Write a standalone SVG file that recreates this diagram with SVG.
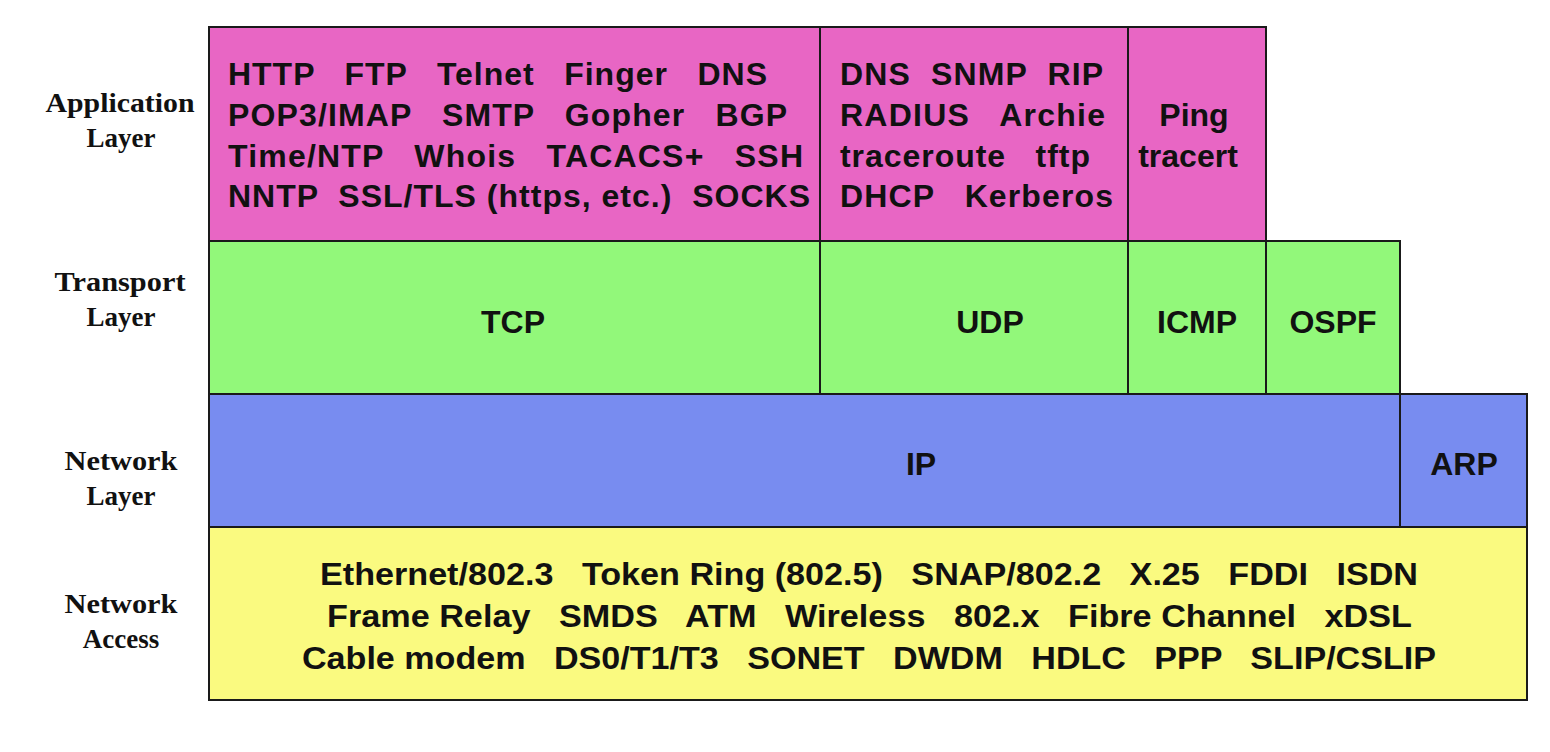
<svg xmlns="http://www.w3.org/2000/svg" width="1550" height="752" viewBox="0 0 1550 752">
<style>
.box{stroke:#1a1a1a;stroke-width:2}
.app{fill:#E866C4}
.tr{fill:#92F87A}
.net{fill:#788CF0}
.acc{fill:#FAFA80}
.t{font-family:"Liberation Sans",Arial,sans-serif;font-weight:bold;font-size:32px;fill:#111}
.c{text-anchor:middle}
.lbl{font-family:"Liberation Serif","Times New Roman",serif;font-weight:bold;font-size:27px;fill:#111;text-anchor:middle}
</style>
<rect width="1550" height="752" fill="#fff"/>
<g id="labels">
<text class="lbl" x="120" y="112" textLength="149" lengthAdjust="spacingAndGlyphs">Application</text>
<text class="lbl" x="121" y="147">Layer</text>
<text class="lbl" x="120" y="291" textLength="131" lengthAdjust="spacingAndGlyphs">Transport</text>
<text class="lbl" x="121" y="326">Layer</text>
<text class="lbl" x="121" y="470" textLength="113" lengthAdjust="spacingAndGlyphs">Network</text>
<text class="lbl" x="121" y="505">Layer</text>
<text class="lbl" x="121" y="613" textLength="113" lengthAdjust="spacingAndGlyphs">Network</text>
<text class="lbl" x="121" y="648">Access</text>
</g>
<g id="app1">
<rect class="box app" x="209" y="27" width="611" height="214"/>
<text class="t" x="228" y="85" xml:space="preserve" textLength="539" lengthAdjust="spacing">HTTP   FTP   Telnet   Finger   DNS</text>
<text class="t" x="228" y="126" xml:space="preserve" textLength="559" lengthAdjust="spacing">POP3/IMAP   SMTP   Gopher   BGP</text>
<text class="t" x="228" y="167" xml:space="preserve" textLength="575" lengthAdjust="spacing">Time/NTP   Whois   TACACS+   SSH</text>
<text class="t" x="228" y="207" xml:space="preserve" textLength="582" lengthAdjust="spacing">NNTP  SSL/TLS (https, etc.)  SOCKS</text>
</g>
<g id="app2">
<rect class="box app" x="820" y="27" width="308" height="214"/>
<text class="t" x="840" y="85" xml:space="preserve" textLength="263" lengthAdjust="spacing">DNS  SNMP  RIP</text>
<text class="t" x="840" y="126" xml:space="preserve" textLength="265" lengthAdjust="spacing">RADIUS   Archie</text>
<text class="t" x="840" y="167" xml:space="preserve" textLength="250" lengthAdjust="spacing">traceroute   tftp</text>
<text class="t" x="840" y="207" xml:space="preserve" textLength="273" lengthAdjust="spacing">DHCP   Kerberos</text>
</g>
<g id="app3">
<rect class="box app" x="1128" y="27" width="138" height="214"/>
<text class="t c" x="1194" y="126">Ping</text>
<text class="t c" x="1188" y="167">tracert</text>
</g>
<g id="tcp">
<rect class="box tr" x="209" y="241" width="611" height="153"/>
<text class="t c" x="513" y="333">TCP</text>
</g>
<g id="udp">
<rect class="box tr" x="820" y="241" width="308" height="153"/>
<text class="t c" x="990" y="333">UDP</text>
</g>
<g id="icmp">
<rect class="box tr" x="1128" y="241" width="138" height="153"/>
<text class="t c" x="1197" y="333">ICMP</text>
</g>
<g id="ospf">
<rect class="box tr" x="1266" y="241" width="134" height="153"/>
<text class="t c" x="1333" y="333">OSPF</text>
</g>
<g id="ip">
<rect class="box net" x="209" y="394" width="1191" height="133"/>
<text class="t c" x="921" y="475">IP</text>
</g>
<g id="arp">
<rect class="box net" x="1400" y="394" width="127" height="133"/>
<text class="t c" x="1464" y="475">ARP</text>
</g>
<g id="access">
<rect class="box acc" x="209" y="527" width="1318" height="173"/>
<text class="t" x="320" y="585" xml:space="preserve" textLength="1098" lengthAdjust="spacingAndGlyphs">Ethernet/802.3   Token Ring (802.5)   SNAP/802.2   X.25   FDDI   ISDN</text>
<text class="t" x="327" y="627" xml:space="preserve" textLength="1085" lengthAdjust="spacingAndGlyphs">Frame Relay   SMDS   ATM   Wireless   802.x   Fibre Channel   xDSL</text>
<text class="t" x="302" y="669" xml:space="preserve" textLength="1134" lengthAdjust="spacingAndGlyphs">Cable modem   DS0/T1/T3   SONET   DWDM   HDLC   PPP   SLIP/CSLIP</text>
</g>
<g id="connectors"></g>
</svg>
